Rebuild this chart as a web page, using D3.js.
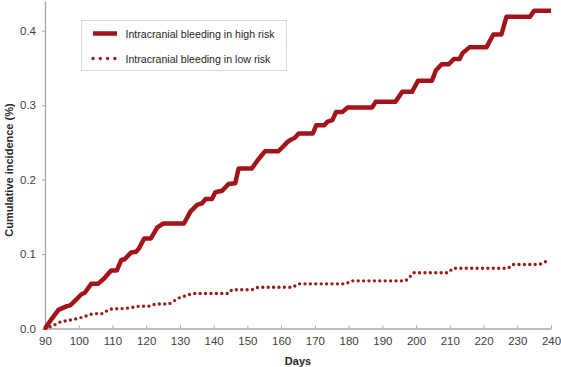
<!DOCTYPE html>
<html>
<head>
<meta charset="utf-8">
<script src="https://cdn.jsdelivr.net/npm/d3@7"></script>
<style>
  body { margin: 0; background: #fff; }
  text { font-family: "Liberation Sans", Arial, sans-serif; }
</style>
</head>
<body>
<div id="chart"></div>
<script>
// values: [day, cumulative incidence]
var highRisk = [[90,0],[92,0.013],[94,0.025],[95,0.027],[96.5,0.03],[97.5,0.031],[99.3,0.039],[100.8,0.046],[101.8,0.048],
  [103.7,0.06],[105.7,0.06],[107.6,0.0675],[109.6,0.078],[111.3,0.078],[112.6,0.092],[113.6,0.093],[115.5,0.102],[117,0.103],
  [117.9,0.108],[119.4,0.121],[121.4,0.121],[123.3,0.136],[125,0.141],[131.2,0.141],[133.1,0.157],[135.1,0.166],[136.5,0.168],
  [137.6,0.174],[139.5,0.174],[140.5,0.183],[142.5,0.185],[144.4,0.194],[146.4,0.195],[147.4,0.215],[151.3,0.215],[153.2,0.227],
  [155.2,0.238],[159.1,0.238],[160.5,0.244],[162,0.251],[163,0.254],[164,0.256],[165.2,0.262],[169.4,0.262],[170.4,0.273],
  [172.8,0.273],[173.8,0.278],[175.2,0.28],[176.3,0.291],[178.2,0.291],[179.7,0.297],[187,0.297],[188,0.3045],[193.9,0.3045],
  [195.9,0.318],[198.8,0.318],[200.6,0.333],[204.7,0.333],[205.9,0.347],[207.6,0.355],[209.7,0.355],[211.2,0.362],[212.9,0.362],
  [213.8,0.37],[215.9,0.378],[220.9,0.378],[222.9,0.395],[225.3,0.395],[226.8,0.419],[233.8,0.419],[235,0.427],[240,0.427]];

var lowRisk = [[90,0],[92,0.003],[94.6,0.009],[98.3,0.012],[101,0.015],[104.2,0.02],[107.1,0.02],[109.1,0.026],[114,0.027],
  [117.9,0.03],[120.9,0.03],[122.9,0.033],[126.8,0.033],[129.7,0.041],[133.6,0.047],[144.4,0.047],[145.4,0.052],[151.3,0.052],
  [153.2,0.0555],[163.5,0.0555],[165,0.06],[179.2,0.06],[180.7,0.064],[196.9,0.064],[198.3,0.07],[199.3,0.075],[209.6,0.075],
  [210.9,0.081],[227.3,0.081],[228.7,0.086],[236.6,0.086],[238.5,0.09]];

var xTicks = d3.range(90, 241, 10);
var yTicks = [0, 0.1, 0.2, 0.3, 0.4];
var seriesNames = ["Intracranial bleeding in high risk", "Intracranial bleeding in low risk"];

var width = 561, height = 367;
var red = "#a3141a";

var svg = d3.select("#chart").append("svg")
  .attr("width", width)
  .attr("height", height);

var x = d3.scaleLinear().domain([90, 240]).range([45, 551]);
var y = d3.scaleLinear().domain([0, 0.44]).range([328.5, 1]);

// axes
var xAxis = svg.append("g")
  .attr("transform", "translate(0," + y(0) + ")")
  .call(d3.axisBottom(x).tickValues(xTicks).tickSizeInner(-3).tickSizeOuter(0).tickPadding(8));
var yAxis = svg.append("g")
  .attr("transform", "translate(" + x(90) + ",0)")
  .call(d3.axisLeft(y).tickValues(yTicks).tickFormat(d3.format(".1f")).tickSizeInner(3).tickSizeOuter(0).tickPadding(6));

[xAxis, yAxis].forEach(function (a) {
  a.select(".domain").attr("stroke", "#a6a6a6").attr("stroke-width", 1.3);
  a.selectAll(".tick line").attr("stroke", "#a6a6a6");
  a.selectAll(".tick text").attr("fill", "#404040").style("font-size", "11.5px");
});

svg.append("text")
  .attr("x", x(165))
  .attr("y", 365)
  .attr("text-anchor", "middle")
  .style("font-size", "11px")
  .style("font-weight", "bold")
  .attr("fill", "#262626")
  .text("Days");

svg.append("text")
  .attr("transform", "translate(13," + 170 + ") rotate(-90)")
  .attr("text-anchor", "middle")
  .style("font-size", "11px")
  .style("font-weight", "bold")
  .attr("fill", "#262626")
  .text("Cumulative incidence (%)");

var line = d3.line()
  .x(function (d) { return x(d[0]); })
  .y(function (d) { return y(d[1]); });

svg.append("path")
  .datum(lowRisk)
  .attr("d", line)
  .attr("fill", "none")
  .attr("stroke", "#9a1a1c")
  .attr("stroke-width", 3.4)
  .attr("stroke-linecap", "round")
  .attr("stroke-dasharray", "0 5.4");

svg.append("path")
  .datum(highRisk)
  .attr("d", line)
  .attr("fill", "none")
  .attr("stroke", red)
  .attr("stroke-width", 4.5)
  .attr("stroke-linejoin", "round");

// legend
var legend = svg.append("g");
legend.append("rect")
  .attr("x", 81.5).attr("y", 20.5)
  .attr("width", 205).attr("height", 50)
  .attr("fill", "#fff")
  .attr("stroke", "#d9d9d9");

seriesNames.forEach(function (name, i) {
  var ly = 33.5 + i * 25;
  legend.append("line")
    .attr("x1", 93).attr("x2", 117)
    .attr("y1", ly).attr("y2", ly)
    .attr("stroke", i === 0 ? red : "#9a1a1c")
    .attr("stroke-width", i === 0 ? 4.5 : 3.4)
    .attr("stroke-linecap", i === 0 ? "butt" : "round")
    .attr("stroke-dasharray", i === 0 ? null : "0 7.3");
  legend.append("text")
    .attr("x", 125.5).attr("y", ly + 4)
    .style("font-size", "10.6px")
    .attr("fill", "#262626")
    .text(name);
});
</script>
</body>
</html>
